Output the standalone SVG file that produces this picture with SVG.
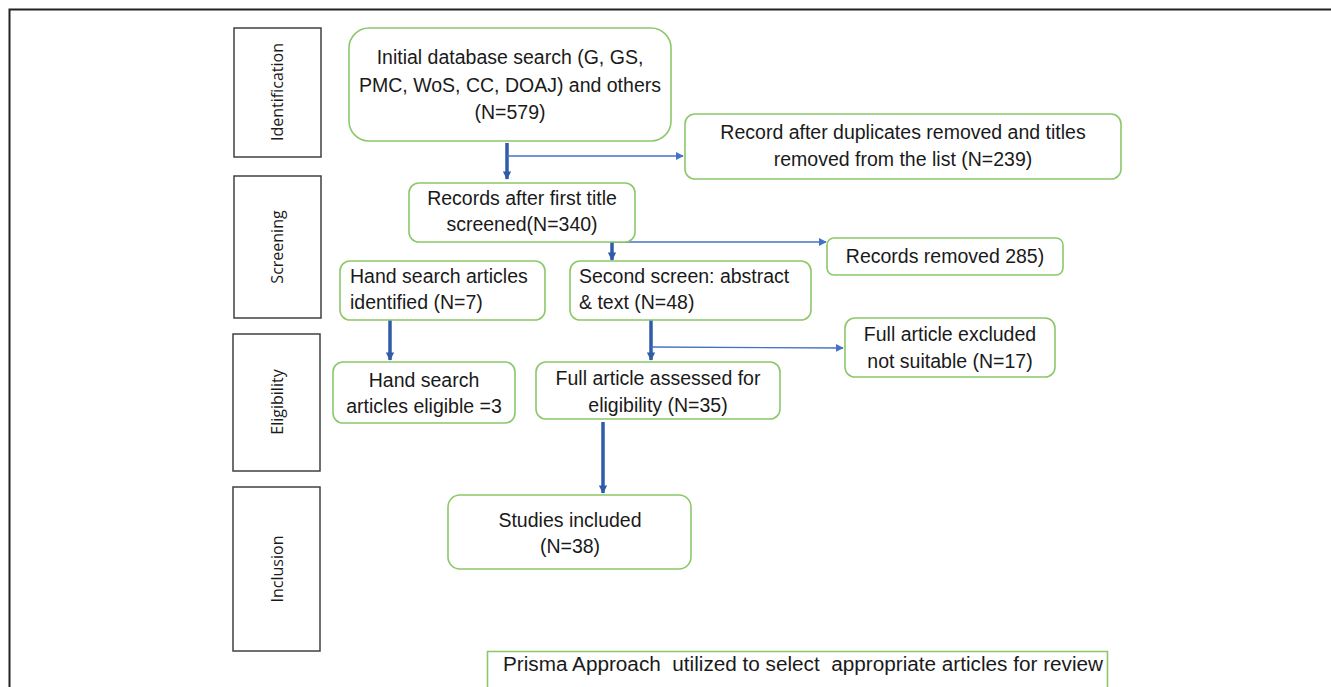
<svg xmlns="http://www.w3.org/2000/svg" width="1331" height="687" viewBox="0 0 1331 687">
<defs>
<style>
.stage{fill:#fff;stroke:#404040;stroke-width:1.5}
.node{fill:#fff;stroke:#8cc86a;stroke-width:1.6}
.t{font-family:"Liberation Sans",Arial,sans-serif;font-size:19.5px;fill:#1a1a1a}
.c{text-anchor:middle}
.st{font-family:"Open Sans","DejaVu Sans",sans-serif;font-size:16px;fill:#1a1a1a;text-anchor:middle}
.thick{stroke:#2f5ba8;stroke-width:3.5;fill:none}
.thin{stroke:#4472c4;stroke-width:1.3;fill:none}
</style>
<marker id="ah" viewBox="0 0 10 10" refX="9" refY="5" markerWidth="8" markerHeight="8" markerUnits="userSpaceOnUse" orient="auto">
<path d="M0,0 L10,5 L0,10 z" fill="#4472c4"/>
</marker>
<marker id="ahk" viewBox="0 0 10 10" refX="9" refY="5" markerWidth="2.4" markerHeight="2.4" orient="auto">
<path d="M0,0 L10,5 L0,10 z" fill="#2f5ba8"/>
</marker>
</defs>
<rect width="1331" height="687" fill="#fff"/>
<path d="M9.5,700 L9.5,9.5 L1331,9.5" fill="none" stroke="#222" stroke-width="2"/>

<g id="stage-identification"><rect class="stage" x="234" y="28" width="87" height="129"/><text class="st" transform="translate(283,92) rotate(-90)">Identification</text></g>
<g id="stage-screening"><rect class="stage" x="234" y="176" width="87" height="142"/><text class="st" transform="translate(283,247) rotate(-90)">Screening</text></g>
<g id="stage-eligibility"><rect class="stage" x="233" y="334" width="87" height="137"/><text class="st" transform="translate(283,402) rotate(-90)">Eligibility</text></g>
<g id="stage-inclusion"><rect class="stage" x="233" y="487" width="87" height="164"/><text class="st" transform="translate(283,569) rotate(-90)">Inclusion</text></g>

<g id="connectors">
<line class="thick" x1="507" y1="143" x2="507" y2="179" marker-end="url(#ahk)"/>
<line class="thin" x1="507" y1="156" x2="683" y2="156" marker-end="url(#ah)"/>
<line class="thick" x1="612" y1="242" x2="612" y2="260" marker-end="url(#ahk)"/>
<line class="thin" x1="612" y1="242" x2="826" y2="242" marker-end="url(#ah)"/>
<line class="thick" x1="390" y1="320" x2="390" y2="360" marker-end="url(#ahk)"/>
<line class="thick" x1="651" y1="320" x2="651" y2="360" marker-end="url(#ahk)"/>
<line class="thin" x1="651" y1="347" x2="843" y2="348" marker-end="url(#ah)"/>
<line class="thick" x1="603" y1="422" x2="603" y2="493" marker-end="url(#ahk)"/>
</g>

<g id="n-initial"><rect class="node" x="349" y="28" width="322" height="113" rx="20"/>
<text class="t c" x="510" y="64">Initial database search (G, GS,</text>
<text class="t c" x="510" y="92">PMC, WoS, CC, DOAJ) and others</text>
<text class="t c" x="510" y="119">(N=579)</text></g>

<g id="n-dup"><rect class="node" x="685" y="114" width="436" height="65" rx="10"/>
<text class="t c" x="903" y="139">Record after duplicates removed and titles</text>
<text class="t c" x="903" y="166">removed from the list (N=239)</text></g>

<g id="n-first"><rect class="node" x="409" y="183" width="226" height="59" rx="10"/>
<text class="t c" x="522" y="205">Records after first title</text>
<text class="t c" x="522" y="231">screened(N=340)</text></g>

<g id="n-removed"><rect class="node" x="827" y="238" width="236" height="37" rx="7"/>
<text class="t c" x="945" y="263">Records removed 285)</text></g>

<g id="n-hand"><rect class="node" x="340" y="261" width="205" height="59" rx="10"/>
<text class="t" x="350" y="283">Hand search articles</text>
<text class="t" x="350" y="309">identified (N=7)</text></g>

<g id="n-second"><rect class="node" x="570" y="261" width="241" height="59" rx="10"/>
<text class="t" x="579" y="283">Second screen: abstract</text>
<text class="t" x="579" y="309">&amp; text (N=48)</text></g>

<g id="n-excluded"><rect class="node" x="845" y="318" width="210" height="59" rx="10"/>
<text class="t c" x="950" y="341">Full article excluded</text>
<text class="t c" x="950" y="368">not suitable (N=17)</text></g>

<g id="n-handelig"><rect class="node" x="333" y="362" width="182" height="61" rx="10"/>
<text class="t c" x="424" y="387">Hand search</text>
<text class="t c" x="424" y="413">articles eligible =3</text></g>

<g id="n-assessed"><rect class="node" x="536" y="362" width="244" height="57" rx="10"/>
<text class="t c" x="658" y="385">Full article assessed for</text>
<text class="t c" x="658" y="412">eligibility (N=35)</text></g>

<g id="n-included"><rect class="node" x="448" y="495" width="243" height="74" rx="12"/>
<text class="t c" x="570" y="527">Studies included</text>
<text class="t c" x="570" y="553">(N=38)</text></g>

<g id="n-prisma"><path d="M487.5,700 L487.5,651.5 L1107.5,651.5 L1107.5,700" fill="#fff" stroke="#8cc86a" stroke-width="1.6"/>
<text class="t c" x="803" y="671" textLength="600" lengthAdjust="spacingAndGlyphs" xml:space="preserve">Prisma Approach  utilized to select  appropriate articles for review</text></g>
</svg>
